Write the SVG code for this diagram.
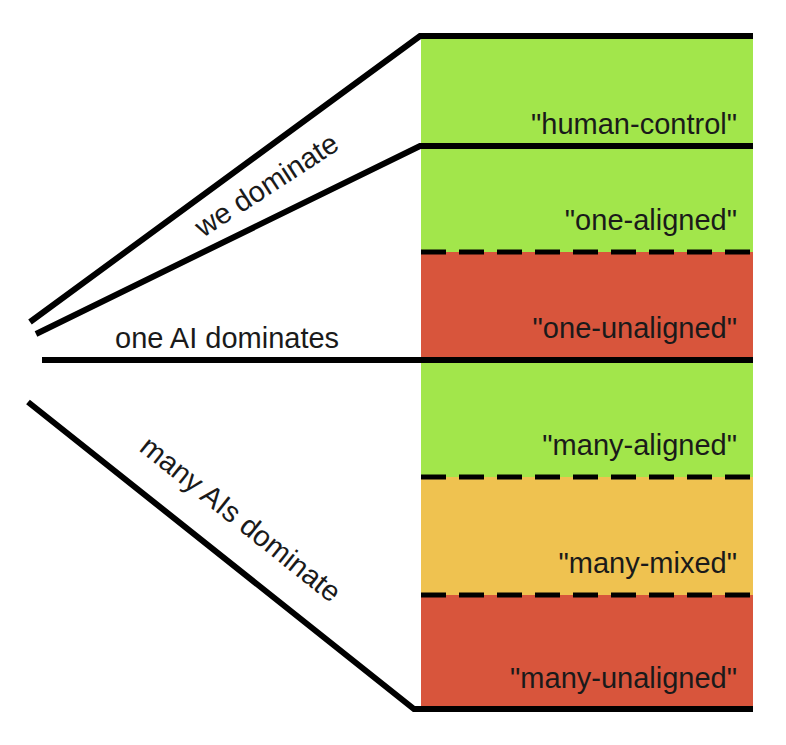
<svg xmlns="http://www.w3.org/2000/svg" width="786" height="745" viewBox="0 0 786 745">
<style>
.t{font-family:"Liberation Sans",Arial,sans-serif;font-size:29px;fill:#1a1a1a}
.r{text-anchor:end}
.s{stroke:#000;stroke-width:6;fill:none}
.d{stroke:#000;stroke-width:5;stroke-dasharray:25 13;fill:none}
</style>
<rect width="786" height="745" fill="#fff"/>
<g id="human-control"><rect x="421" y="36" width="332" height="110" fill="#a2e64b"/><text class="t r" x="737" y="134">"human-control"</text></g>
<g id="one-aligned"><rect x="421" y="146" width="332" height="106" fill="#a2e64b"/><text class="t r" x="737" y="230">"one-aligned"</text></g>
<g id="one-unaligned"><rect x="421" y="252" width="332" height="108" fill="#d8553c"/><text class="t r" x="737" y="338">"one-unaligned"</text></g>
<g id="many-aligned"><rect x="421" y="360" width="332" height="117" fill="#a2e64b"/><text class="t r" x="737" y="455">"many-aligned"</text></g>
<g id="many-mixed"><rect x="421" y="477" width="332" height="118" fill="#efc250"/><text class="t r" x="737" y="573">"many-mixed"</text></g>
<g id="many-unaligned"><rect x="421" y="595" width="332" height="114" fill="#d8553c"/><text class="t r" x="737" y="688">"many-unaligned"</text></g>
<g id="connectors">
<polyline class="s" points="30,322 420,36 753,36"/>
<polyline class="s" points="36,334 420,146 753,146"/>
<line class="s" x1="42" y1="360" x2="753" y2="360"/>
<polyline class="s" points="28,402 414,709 753,709"/>
<line class="d" x1="421" y1="252" x2="753" y2="252"/>
<line class="d" x1="421" y1="477" x2="753" y2="477"/>
<line class="d" x1="421" y1="595" x2="753" y2="595"/>
</g>
<g id="labels">
<text class="t" transform="translate(203,238) rotate(-33)">we dominate</text>
<text class="t" x="115" y="348">one AI dominates</text>
<text class="t" transform="translate(138,450) rotate(38.5)">many AIs dominate</text>
</g>
</svg>
